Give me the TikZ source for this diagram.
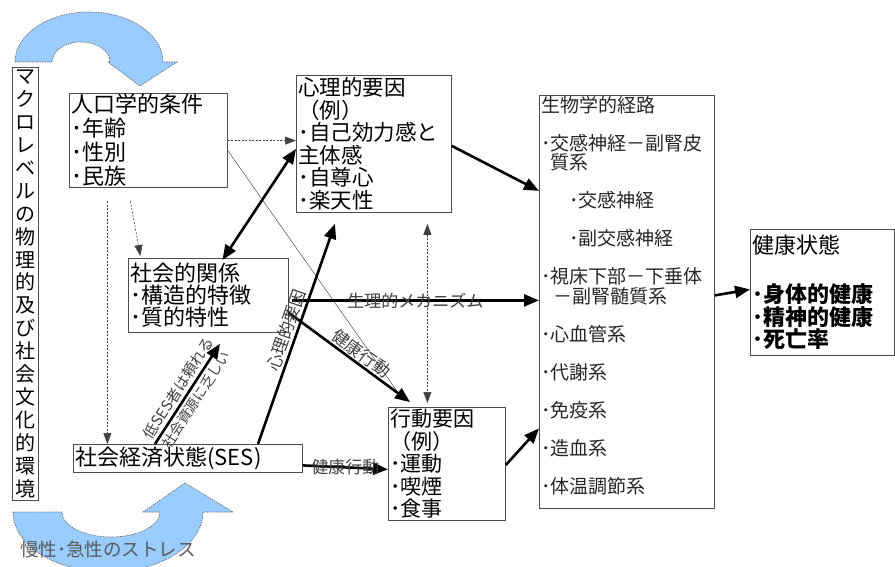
\documentclass[tikz,border=0pt]{standalone}
\usepackage{fontspec}
\setmainfont{Noto Sans CJK JP}
\usetikzlibrary{arrows.meta, positioning}

\definecolor{stressblue}{HTML}{99CCFF}

\tikzset{
	box/.style={draw=black!70, line width=0.8pt, anchor=north west, align=left, inner xsep=2pt, inner ysep=1pt, font=\fontsize{21.5}{22.5}\selectfont},
	strong/.style={line width=2.6pt, >={Triangle[length=15pt,width=12pt]}},
	thinarrow/.style={black!75, line width=0.6pt, dash pattern=on 2pt off 1.5pt, >={Triangle[length=11pt,width=8pt]}},
	faint/.style={black!70, line width=0.5pt},
	lbl/.style={font=\fontsize{17}{17}\selectfont, text=black!75, inner sep=0pt},
	stress/.style={fill=stressblue, draw=black!60, line width=0.6pt, dash pattern=on 1.5pt off 1pt}
}

\begin{document}
\begin{tikzpicture}[x=1pt, y=-1pt]
	\useasboundingbox (0,0) rectangle (895,567);
	% stress arrows
	\draw[stress] (15,62) arc[start angle=180, end angle=360, x radius=74, y radius=50] -- (177,62) -- (140,86) -- (108,62) -- (110,62) arc[start angle=0, end angle=-180, x radius=29, y radius=20] -- cycle;
	\draw[stress] (13,512) arc[start angle=180, end angle=0, x radius=95, y radius=60] -- (233,512) -- (185,483) -- (143,512) -- (160,512) arc[start angle=0, end angle=180, x radius=49, y radius=25] -- cycle;
	\node[anchor=west, inner sep=0pt, text=black!65, font=\fontsize{18.5}{18.5}\selectfont] (stresstext) at (20,549) {慢性･急性のストレス};

	% boxes
	\node[box, align=center, text width=20pt, inner xsep=3pt, minimum height=433pt, font=\fontsize{20}{22.9}\selectfont] (macro) at (12,67) {マ\\ク\\ロ\\レ\\ベ\\ル\\の\\物\\理\\的\\及\\び\\社\\会\\文\\化\\的\\環\\境};
	\node[box, text width=154pt, minimum height=94pt, font=\fontsize{22}{24}\selectfont] (demo) at (69,93) {人口学的条件\\･年齢\\･性別\\･民族};
	\node[box, text width=151pt, minimum height=137pt] (psych) at (296,75) {心理的要因\\（例）\\･自己効力感と\\主体感\\･自尊心\\･楽天性};
	\node[box, text width=156pt, minimum height=74pt, font=\fontsize{22}{22}\selectfont] (social) at (128,258) {社会的関係\\･構造的特徴\\･質的特性};
	\node[box, text width=225pt, minimum height=28pt, font=\fontsize{22}{22}\selectfont] (ses) at (73,444) {社会経済状態(SES)};
	\node[box, text width=113pt, minimum height=113pt, font=\fontsize{21}{22.5}\selectfont] (behav) at (388,407) {行動要因\\（例）\\･運動\\･喫煙\\･食事};
	\node[box, text width=171pt, inner ysep=2pt, text height=15pt, text depth=394pt, text=black!85, font=\fontsize{19}{19.5}\selectfont] (bio) at (539,95) {生物学的経路\\[18.5pt]･交感神経－副腎皮\\\hspace*{9pt}質系\\[18.5pt]\hspace*{28pt}･交感神経\\[18.5pt]\hspace*{28pt}･副交感神経\\[18.5pt]･視床下部－下垂体\\\hspace*{12pt}－副腎髄質系\\[18.5pt]･心血管系\\[18.5pt]･代謝系\\[18.5pt]･免疫系\\[18.5pt]･造血系\\[18.5pt]･体温調節系};
	\node[box, text width=140pt, minimum height=126pt, font=\fontsize{22}{22.5}\selectfont] (health) at (750,229) {健康状態\\[4pt]\mbox{}\\\textbf{･身体的健康}\\\textbf{･精神的健康}\\\textbf{･死亡率}};

	% thin connectors
	\draw[thinarrow, ->] (demo.east) -- (demo.east -| psych.west);
	\draw[faint] ([yshift=-10pt]demo.east) -- ([shift={(16pt,6pt)}]behav.north west);
	\draw[thinarrow, ->] ([shift={(-41pt,-13pt)}]demo.south) -- ([xshift=-41pt]demo.south |- ses.north);
	\draw[thinarrow, ->] ([shift={(-18pt,-13pt)}]demo.south) -- ([shift={(-68pt,2pt)}]social.north);
	\draw[thinarrow, <->] ([shift={(53.5pt,-11pt)}]psych.south) -- ([shift={(-19.5pt,4pt)}]behav.north);

	% thick connectors
	\draw[strong, <->] ([shift={(14pt,-2pt)}]social.north) -- ([yshift=-5pt]psych.west);
	\draw[strong, ->] ([yshift=-2pt]psych.east) -- ([yshift=111pt]bio.west);
	\draw[strong, ->] ([shift={(3pt,-5pt)}]social.east) -- ([yshift=1.5pt]bio.west) node[midway, lbl] {生理的メカニズム};
	\draw[strong, ->] ([yshift=20pt]social.south east) -- ([shift={(22pt,5pt)}]behav.north west) node[pos=0.55, sloped, above=1pt, lbl] {健康行動};
	\draw[strong, ->] ([xshift=82pt]ses.north west) -- ([shift={(92pt,-11pt)}]social.south west)
		node[midway, sloped, above=2.5pt, lbl, font=\fontsize{15}{15}\selectfont] {低SES者は頼れる}
		node[midway, sloped, below=2.5pt, lbl, font=\fontsize{14}{14}\selectfont] {社会資源に乏しい};
	\draw[strong, ->] ([xshift=185pt]ses.north west) -- ([shift={(39pt,-11pt)}]psych.south west) node[midway, sloped, above=2pt, lbl] {心理的要因};
	\draw[strong, ->] ([yshift=-7pt]ses.east) -- ([yshift=-5.5pt]behav.west) node[midway, lbl] {健康行動};
	\draw[strong, ->] ([yshift=-58pt]behav.north east) -- ([yshift=-126.5pt]bio.west);
	\draw[strong, ->] ([yshift=6.5pt]bio.east) -- ([yshift=3pt]health.west);
\end{tikzpicture}
\end{document}
